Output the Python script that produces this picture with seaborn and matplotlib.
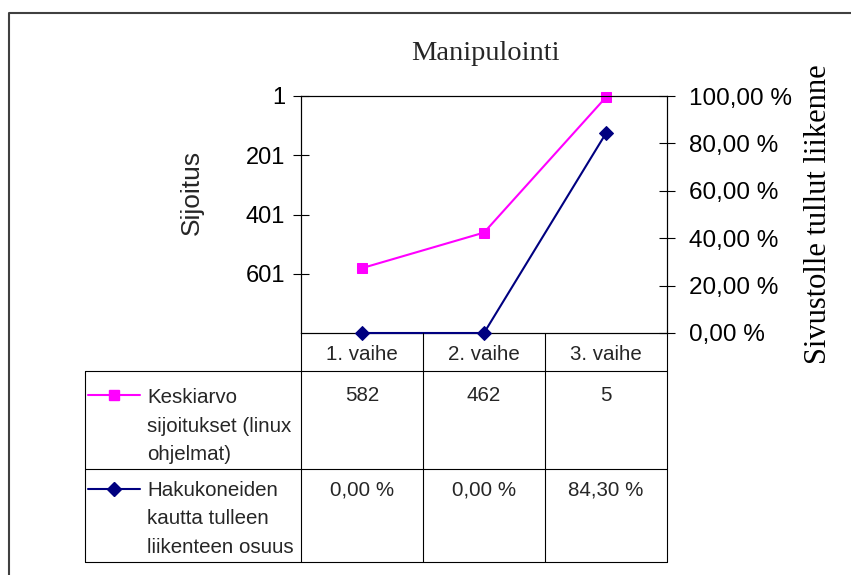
import numpy as np
import pandas as pd
import matplotlib
matplotlib.use("Agg")
import matplotlib.pyplot as plt
import seaborn as sns
from matplotlib.lines import Line2D

# ---- data ----
categories = ["1. vaihe", "2. vaihe", "3. vaihe"]
series_names = ["Keskiarvo\nsijoitukset (linux\nohjelmat)",
                "Hakukoneiden\nkautta tulleen\nliikenteen osuus"]
rank_values = [582, 462, 5]
share_values = [0.0, 0.0, 0.843]
rank_ticks = [1, 201, 401, 601]
share_ticks = [0.0, 0.2, 0.4, 0.6, 0.8, 1.0]
title = "Manipulointi"
left_label = "Sijoitus"
right_label = "Sivustolle tullut liikenne"

sns.set_theme(style="white")
plt.rcParams["font.family"] = ["Liberation Sans", "DejaVu Sans"]
SERIF = ["Liberation Serif", "DejaVu Serif"]

W, H = 851, 575
fig = plt.figure(figsize=(W / 100, H / 100), dpi=100)
fig.patch.set_facecolor("white")


def fx(px):
    return px / W


def fy(py):
    return 1 - py / H


L, R, T, B = 301, 667, 96, 333
ax = fig.add_axes([fx(L), fy(B), (R - L) / W, (B - T) / H])
ax2 = ax.twinx()

MAG = "#FF00FF"
NAVY = "#000080"

df = pd.DataFrame({"vaihe": categories, "rank": rank_values, "share": share_values})
sns.lineplot(data=df, x="vaihe", y="rank", ax=ax, color=MAG, marker="s",
             markersize=7.5, markeredgecolor=MAG, linewidth=1.5, sort=False,
             clip_on=False, zorder=5)
sns.lineplot(data=df, x="vaihe", y="share", ax=ax2, color=NAVY, marker="D",
             markersize=7, markeredgecolor=NAVY, linewidth=1.5, sort=False,
             clip_on=False, zorder=5)

ax.set_xlim(-0.5, len(categories) - 0.5)
ax.set_ylim(801, 1)
ax.set_yticks(rank_ticks)
ax.set_yticklabels([str(v) for v in rank_ticks])
ax.set_xticks([])
ax.set_xlabel("")
ax.set_ylabel("")
ax2.set_ylim(0, 1)
ax2.set_yticks(share_ticks)
ax2.set_yticklabels([f"{v * 100:.2f}".replace(".", ",") + " %" for v in share_ticks])
ax2.set_xlabel("")
ax2.set_ylabel(right_label, family=SERIF, fontsize=22, labelpad=9, color="black")

for a in (ax, ax2):
    a.set_facecolor("none")
    for s in a.spines.values():
        s.set_visible(True)
        s.set_color("black")
        s.set_linewidth(0.8)
    a.grid(False)

ax.tick_params(axis="y", direction="inout", length=11, width=0.8, pad=6,
               labelsize=17, colors="black", left=True, right=False)
ax2.tick_params(axis="y", direction="inout", length=11, width=0.8, pad=10,
                labelsize=17.5, colors="black", right=True, left=False)

# ---- texts ----
fig.text(fx(485), fy(54), title, ha="center", va="center", family=SERIF, fontsize=20.5)
fig.text(fx(192), fy(192), left_label, rotation=90, ha="center", va="center", fontsize=19)

# ---- outer frame ----
fig.add_artist(Line2D([fx(9), fx(9), fx(851)], [fy(575), fy(13), fy(13)],
                      transform=fig.transFigure, color="#404040", lw=1.5))

# ---- data table ----
n = len(categories)
cw = (R - L) / n
col_edges = [L + i * cw for i in range(n + 1)]
TL = 85
row_y = [B, 371, 469, 562]


def hline(x0, x1, y, c="black"):
    fig.add_artist(Line2D([fx(x0), fx(x1)], [fy(y), fy(y)], transform=fig.transFigure,
                          color=c, lw=0.8))


def vline(x, y0, y1, c="black"):
    fig.add_artist(Line2D([fx(x), fx(x)], [fy(y0), fy(y1)], transform=fig.transFigure,
                          color=c, lw=0.8))


hline(TL, R, row_y[1])
hline(TL, R, row_y[2])
hline(TL, R, row_y[3])
vline(TL, row_y[1], row_y[3])
for xe in col_edges:
    vline(xe, B, row_y[3])

FS = 14.8
for i, c in enumerate(categories):
    fig.text(fx(L + (i + 0.5) * cw), fy(360), c, ha="center", va="baseline", fontsize=FS)

rank_txt = [str(v) for v in rank_values]
share_txt = [f"{v * 100:.2f}".replace(".", ",") + " %" for v in share_values]
for row, (vals, base) in enumerate([(rank_txt, 401), (share_txt, 495)]):
    for i, t in enumerate(vals):
        fig.text(fx(L + (i + 0.5) * cw), fy(base), t, ha="center", va="baseline", fontsize=FS)

legend_specs = [(series_names[0], MAG, "s", 7.5, 395, 403),
                (series_names[1], NAVY, "D", 7, 489, 496)]
for name, col, mk, ms, ly, base in legend_specs:
    fig.add_artist(Line2D([fx(88), fx(140)], [fy(ly), fy(ly)], transform=fig.transFigure,
                          color=col, lw=1.5))
    fig.add_artist(Line2D([fx(114)], [fy(ly)], transform=fig.transFigure, color=col,
                          marker=mk, markersize=ms, markeredgecolor=col, lw=0))
    for k, line in enumerate(name.split("\n")):
        fig.text(fx(147), fy(base + k * 28.5), line, ha="left", va="baseline", fontsize=FS)

fig.savefig("out.png", dpi=100, facecolor="white")
